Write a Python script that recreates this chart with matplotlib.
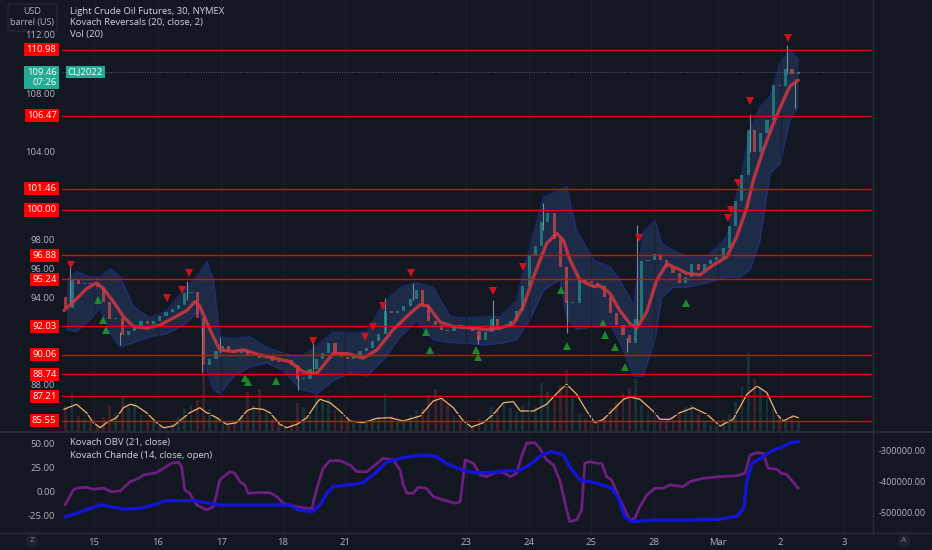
import numpy as np
import matplotlib
matplotlib.use("Agg")
import matplotlib.pyplot as plt
from matplotlib.ticker import FormatStrFormatter, FixedLocator
from matplotlib.patches import FancyBboxPatch
from matplotlib.lines import Line2D

plt.rcParams["font.family"] = ["Open Sans", "DejaVu Sans"]

# ---------------------------------------------------------------- data
# time axis: trading sessions, 0 = Feb 15
session_t = [0, 1.02, 2.03, 3.02, 4.01, 5.94, 6.95, 7.94, 8.95, 9.97, 10.97, 11.98]
session_labels = ["15", "16", "17", "18", "21", "23", "24", "25", "28", "Mar", "2", "3"]

# price bars (one every 0.1 session), open of first bar, then closes
first_open = 94.0
closes = [
    93.3, 95.2, 94.9, 95.0, 94.9, 94.7, 93.7, 92.5, 92.6, 91.4,
    91.7, 92.0, 92.4, 92.2, 92.4, 92.7, 93.0, 93.2, 93.5, 94.3,
    94.4, 92.6, 89.4, 89.8, 90.3, 90.7, 90.3, 90.2, 90.4, 89.95,
    90.05, 89.85, 89.95, 89.65, 89.6, 89.7, 89.4, 88.4, 88.4, 89.1,
    89.8, 90.2, 90.9, 90.2, 89.9, 89.8, 90.0, 90.3, 90.5, 91.0,
    91.5, 93.1, 92.9, 93.05, 93.4, 93.9, 94.5, 93.5, 92.4, 92.1,
    91.75, 91.7, 92.1, 92.0, 92.0, 91.7, 91.1, 91.6, 92.5, 92.0,
    92.0, 92.4, 93.1, 94.8, 96.9, 97.5, 99.2, 99.8, 98.0, 96.1,
    93.6, 93.6, 95.2, 95.1, 95.0, 94.8, 94.0, 92.9, 92.1, 91.4,
    90.9, 92.5, 96.5, 96.6, 97.0, 96.6, 96.1, 95.7, 95.0, 95.4,
    96.3, 95.9, 96.3, 96.6, 96.8, 97.4, 98.9, 100.6, 102.4, 105.5,
    104.0, 105.3, 106.2, 108.6, 108.5, 109.7, 109.3, 109.46,
]
volumes = [
    2500, 3800, 1500, 1200, 900, 600, 1400, 2600, 1800, 3500,
    2400, 2800, 1600, 1100, 900, 500, 400, 700, 1400, 2200,
    2600, 3100, 6500, 2200, 1300, 900, 700, 800, 1500, 3900,
    2600, 4200, 1800, 1200, 700, 500, 900, 2800, 2400, 1900,
    3600, 2900, 3300, 2100, 1500, 900, 800, 1000, 1100, 1300,
    1400, 3700, 1500, 900, 1000, 1600, 2100, 2200, 3600, 4200,
    3100, 2600, 1500, 900, 700, 500, 1200, 700, 2500, 2100,
    2700, 2300, 1900, 2600, 3200, 2400, 4800, 3900, 3100, 4600,
    6100, 3400, 1800, 1200, 900, 1100, 1500, 2300, 2900, 3800,
    4300, 5200, 2600, 2000, 1400, 1000, 1200, 1300, 1700, 2400,
    2600, 1800, 900, 600, 500, 1200, 1600, 2900, 4500, 7800,
    5200, 4300, 3700, 2200, 1500, 1100, 1600, 900,
]

# notable wicks
wick_t = [-0.38, 0.42, 1.48, 1.72, 2.01, 3.26, 3.50, 4.65, 5.10, 6.13, 6.38,
          7.17, 7.55, 8.51, 8.68, 10.48, 11.07, 11.20]
wick_lo = [93.5, 90.74, 93.8, 88.9, 90.2, 87.65, 89.0, 91.8, 93.8, 90.8, 91.8,
           98.6, 91.54, 90.28, 92.0, 104.0, 109.3, 107.0]
wick_hi = [96.2, 91.6, 95.1, 92.0, 91.3, 88.6, 91.08, 93.96, 95.0, 91.4, 93.8,
           100.46, 93.8, 91.2, 99.0, 106.6, 111.3, 109.0]

# Kovach Reversals: centre line and envelope
ma_t = [-0.48, -0.28, -0.12, 0.04, 0.15, 0.31, 0.47, 0.63, 0.84, 1.05, 1.27, 1.48,
        1.61, 1.69, 1.85, 2.01, 2.23, 2.39, 2.65, 2.92, 3.13, 3.34, 3.56, 3.82,
        4.04, 4.30, 4.52, 4.78, 5.05, 5.21, 5.34, 5.53, 5.74, 6.06, 6.27, 6.49,
        6.70, 6.86, 7.02, 7.23, 7.39, 7.50, 7.60, 7.76, 7.98, 8.08, 8.24, 8.40,
        8.56, 8.67, 8.83, 8.99, 9.15, 9.31, 9.47, 9.68, 9.85, 10.11, 10.27, 10.43,
        10.53, 10.69, 10.85, 11.01, 11.12, 11.25]
ma_val = [93.1, 93.9, 94.6, 95.0, 94.6, 93.7, 92.7, 92.0, 91.9, 92.1, 92.6, 93.1,
          93.7, 93.4, 91.8, 90.4, 90.3, 90.4, 90.05, 89.8, 89.6, 88.9, 88.8, 90.15,
          90.15, 89.85, 90.4, 91.8, 92.9, 93.5, 93.4, 92.3, 92.0, 91.9, 91.8, 91.9,
          92.2, 93.4, 95.4, 97.7, 98.4, 97.9, 96.6, 95.2, 94.75, 94.8, 94.3, 93.1,
          92.2, 91.9, 93.0, 95.2, 96.3, 96.0, 95.65, 95.55, 96.1, 96.8, 98.2, 100.2,
          102.0, 104.1, 105.9, 107.5, 108.5, 108.9]

band_t = [-0.44, -0.28, -0.06, 0.10, 0.26, 0.42, 0.63, 0.89, 1.16, 1.43, 1.69,
          1.80, 1.91, 2.01, 2.23, 2.49, 2.76, 3.02, 3.29, 3.56, 3.82, 4.09, 4.36,
          4.62, 4.89, 5.15, 5.42, 5.69, 5.95, 6.22, 6.49, 6.75, 6.96, 7.18, 7.44,
          7.55, 7.71, 7.98, 8.24, 8.40, 8.62, 8.77, 8.96, 9.07, 9.25, 9.47, 9.79,
          10.11, 10.32, 10.48, 10.64, 10.80, 10.96, 11.12, 11.25]
band_hi = [95.2, 95.8, 95.4, 95.4, 96.0, 95.4, 93.4, 92.6, 93.1, 94.5, 95.7,
           96.5, 95.2, 91.3, 91.2, 91.3, 90.6, 90.2, 89.9, 90.7, 91.65, 91.55, 91.65,
           93.6, 94.7, 95.0, 94.7, 92.7, 92.6, 92.7, 92.7, 93.8, 97.5, 100.9, 101.4,
           101.6, 98.6, 96.6, 96.1, 95.2, 93.5, 98.5, 99.3, 97.7, 97.25, 96.8, 96.8,
           98.2, 102.0, 105.5, 107.1, 107.8, 110.1, 111.0, 110.3]
band_lo = [91.8, 91.65, 92.5, 93.3, 91.5, 90.6, 90.9, 91.3, 91.5, 92.1, 93.1,
           89.0, 87.65, 87.4, 88.6, 89.25, 89.5, 89.0, 87.7, 87.4, 88.3, 88.8, 88.6,
           89.7, 91.3, 92.4, 91.1, 90.9, 90.85, 90.75, 90.85, 91.1, 92.45, 94.5, 95.2,
           92.5, 91.8, 92.0, 92.2, 90.9, 88.6, 88.6, 91.1, 94.0, 94.7, 94.7, 95.0,
           95.4, 95.4, 95.9, 97.9, 102.5, 103.2, 106.2, 107.1]

sell_t = [-0.37, 1.16, 1.40, 1.52, 3.50, 4.33, 4.45, 4.61, 5.06, 6.38, 6.86,
          8.71, 10.13, 10.17, 10.29, 10.48, 11.09]
sell_p = [96.2, 93.94, 94.5, 95.65, 91.0, 91.3, 92.0, 93.4, 95.7, 94.45, 96.07,
          98.06, 99.43, 100.0, 101.83, 107.5, 111.77]
buy_t = [0.06, 0.15, 0.19, 2.41, 2.46, 2.91, 5.30, 5.37, 6.10, 6.14, 7.46,
         7.56, 8.13, 8.17, 8.33, 8.48, 9.46]
buy_p = [93.83, 92.45, 91.77, 88.45, 88.22, 88.29, 91.6, 90.4, 90.4, 89.9, 94.5,
         90.67, 92.23, 91.42, 90.58, 89.2, 93.6]

levels = [110.98, 106.47, 101.46, 100.00, 96.88, 95.24, 92.03, 90.06, 88.74, 87.21, 85.55]
last_price = 109.46
price_ticks = [86, 88, 90, 92, 94, 96, 98, 100, 102, 104, 106, 108, 110, 112]

# Vol (20) moving average
vma_t = [-0.48, -0.28, -0.12, -0.01, 0.10, 0.20, 0.36, 0.47, 0.58, 0.68, 0.84, 1.00,
         1.11, 1.27, 1.43, 1.53, 1.69, 1.80, 1.96, 2.12, 2.28, 2.44, 2.54, 2.70,
         2.81, 2.97, 3.08, 3.24, 3.40, 3.56, 3.61, 3.77, 3.93, 4.09, 4.30, 4.52,
         4.73, 4.94, 5.21, 5.42, 5.55, 5.74, 5.90, 6.03, 6.22, 6.38, 6.54, 6.70,
         6.81, 7.02, 7.23, 7.44, 7.55, 7.71, 7.87, 8.00, 8.14, 8.30, 8.46, 8.56,
         8.72, 8.93, 9.04, 9.20, 9.36, 9.57, 9.79, 10.00, 10.21, 10.43, 10.59, 10.75,
         10.91, 11.01, 11.17, 11.25]
vma_val = [2170, 2670, 1830, 830, 330, 830, 1330, 2330, 2670, 2500, 1830, 830,
           330, 500, 1330, 1830, 2330, 1830, 1330, 670, 830, 2000, 2270, 2170,
           1830, 670, 330, 670, 1330, 2830, 3170, 2830, 2000, 1000, 830, 1270,
           1330, 1000, 1500, 3000, 3270, 2330, 1000, 400, 830, 1670, 2830, 2930,
           2000, 2000, 2670, 4070, 4670, 3670, 2000, 830, 1170, 2170, 3170, 3400,
           3170, 2000, 1170, 1170, 1830, 2330, 1670, 500, 1170, 3670, 4500, 3830,
           1670, 1000, 1500, 1330]

# lower pane: Kovach Chande and Kovach OBV
chande_t = [-0.46, -0.33, -0.28, -0.12, -0.01, 0.15, 0.28, 0.42, 0.58, 0.71, 0.79,
            1.00, 1.11, 1.24, 1.35, 1.40, 1.45, 1.53, 1.64, 1.80, 1.91, 2.01, 2.17,
            2.25, 2.33, 2.41, 2.46, 2.60, 2.81, 2.92, 3.02, 3.24, 3.40, 3.48, 3.56,
            3.66, 3.77, 3.93, 4.09, 4.20, 4.36, 4.46, 4.62, 4.78, 4.89, 4.94, 5.00,
            5.10, 5.18, 5.31, 5.42, 5.58, 5.77, 5.85, 5.93, 6.06, 6.17, 6.27, 6.43,
            6.54, 6.65, 6.75, 6.83, 6.91, 7.04, 7.12, 7.23, 7.34, 7.44, 7.55, 7.60,
            7.71, 7.79, 7.84, 7.92, 8.03, 8.11, 8.19, 8.27, 8.38, 8.48, 8.56, 8.64,
            8.72, 8.83, 8.96, 9.09, 9.20, 9.41, 9.52, 9.73, 10.00, 10.27, 10.40, 10.48,
            10.59, 10.69, 10.77, 10.91, 10.98, 11.06, 11.14, 11.25]
chande_val = [-13.9, 1.8, 3.6, 4.6, 2.5, 3.6, 0.0, 0.7, 10.5, 14.0, 17.5,
              19.9, 24.5, 29.7, 30.8, 26.2, 1.8, -1.7, -13.9, -19.1, -15.7, 12.2, 20.9,
              19.2, 10.5, 7.0, -1.7, -1.0, -1.0, -5.2, -12.1, -15.7, -17.4, -17.4, 3.6,
              24.5, 32.4, 32.4, 27.9, 20.9, 20.9, 26.2, 34.9, 33.2, 22.7, 7.0, -1.7,
              -1.7, 4.6, 3.6, -5.2, -8.7, -12.1, -10.5, 33.2, 29.7, 17.5, 15.7, 20.9,
              19.9, 15.7, 19.2, 36.6, 50.6, 51.3, 45.4, 33.2, 27.9, 12.2, -19.1, -31.4,
              -29.6, -19.1, 29.7, 31.4, 29.7, 29.7, 15.7, 12.2, -5.2, -19.1, -29.6, -27.8,
              -15.7, -3.5, 3.6, 3.6, 7.0, 5.2, 10.5, 14.0, 15.7, 16.7, 19.2, 38.4,
              40.8, 40.1, 24.5, 23.4, 19.2, 18.2, 12.2, 3.6]

obv_t = [-0.46, -0.28, -0.06, 0.10, 0.28, 0.47, 0.73, 0.95, 1.16, 1.37, 1.59, 1.80,
         2.01, 2.33, 2.86, 3.13, 3.26, 3.48, 3.61, 3.72, 3.82, 4.04, 4.28, 4.46,
         4.68, 4.89, 5.05, 5.21, 5.47, 5.63, 5.85, 6.06, 6.33, 6.54, 6.78, 6.96,
         7.15, 7.31, 7.50, 7.60, 7.76, 8.03, 8.27, 8.38, 8.48, 8.59, 8.94, 9.47,
         10.00, 10.27, 10.38, 10.43, 10.51, 10.69, 10.85, 11.01, 11.12, 11.25]
obv_val = [-513000, -502000, -486000, -475000, -481000, -488000, -486000, -475000,
           -461000, -461000, -461000, -468000, -475000, -475000, -475000, -475000,
           -491000, -497000, -475000, -437000, -416000, -411000, -405000, -378000,
           -336000, -325000, -319000, -314000, -319000, -341000, -360000, -371000,
           -371000, -365000, -365000, -346000, -314000, -303000, -314000, -352000,
           -394000, -405000, -421000, -454000, -513000, -529000, -524000, -524000,
           -521000, -511000, -486000, -395000, -341000, -319000, -298000, -287000,
           -274000, -271000]

# ---------------------------------------------------------------- style
BG = "#131722"
TXT = "#b2b5be"
GRID = "#1c202c"
UP = "#26a69a"
DOWN = "#ef5350"
W, H = 932, 550

fig = plt.figure(figsize=(W / 100, H / 100), dpi=100, facecolor=BG)

ax = fig.add_axes([62 / W, 1 - 431 / H, 810 / W, 431 / H])
axv = ax.twinx()
axl = fig.add_axes([62 / W, 1 - 532 / H, 810 / W, 100 / H])
axo = axl.twinx()

ax.set_zorder(3)
axv.set_zorder(2)
ax.patch.set_visible(False)
axv.patch.set_visible(False)
axl.set_facecolor(BG)
axo.patch.set_visible(False)

xlim = (-0.511, 12.428)
for a in (ax, axv, axl, axo):
    a.set_xlim(*xlim)
    for s in a.spines.values():
        s.set_visible(False)

# ---------------------------------------------------------------- price pane
ax.set_ylim(84.84, 114.40)
# like TradingView, hide scale labels that sit under a price label
shown = [p for p in price_ticks
         if min(abs(p - lv) for lv in levels) > 0.7 and not (108.3 < p < 110.3)]
ax.yaxis.set_major_locator(FixedLocator(shown))
ax.yaxis.set_major_formatter(FormatStrFormatter("%.2f"))
ax.tick_params(axis="y", colors=TXT, labelsize=6.8, length=0, pad=5)
ax.tick_params(axis="x", length=0, labelbottom=False)
ax.set_xticks(session_t)
ax.grid(True, axis="x", color=GRID, lw=0.8, zorder=0)
for p in price_ticks:
    ax.axhline(p, color="#171b26", lw=0.7, zorder=0)

t_bars = -0.45 + 0.1 * np.arange(len(closes))
opens = np.concatenate([[first_open], closes[:-1]])
closes_arr = np.array(closes)
up = closes_arr >= opens
bar_col = np.where(up, UP, DOWN)

# envelope
ax.fill_between(band_t, band_lo, band_hi, color="#1f2d4a", alpha=0.95, lw=0, zorder=1)
ax.plot(band_t, band_hi, color="#1f35b0", lw=1.0, alpha=0.5, zorder=1.2)
ax.plot(band_t, band_lo, color="#1f35b0", lw=1.0, alpha=0.5, zorder=1.2)

# candles
ax.vlines(wick_t, wick_lo, wick_hi, color="#6f8f99", lw=0.8, zorder=2)
body = np.abs(closes_arr - opens)
ax.bar(t_bars, np.maximum(body, 0.06), bottom=np.minimum(opens, closes_arr),
       width=0.05, color=bar_col, alpha=0.6, lw=0, zorder=2.2)

# centre line
ax.plot(ma_t, ma_val, color="#d23641", lw=2.4, alpha=0.85, zorder=2.5,
        solid_capstyle="round")

# reversal markers
ax.plot(sell_t, sell_p, "v", color="#d0111b", ms=5.5, mew=0, zorder=2.6)
ax.plot(buy_t, buy_p, "^", color="#1b8a2b", ms=5.5, mew=0, zorder=2.6)

# level lines
for lv in levels:
    ax.axhline(lv, color="#ff0000", lw=1.0, alpha=0.9, zorder=2.7)
    ax.annotate(f"{lv:.2f}", xy=(0, lv), xycoords=ax.get_yaxis_transform(),
                xytext=(-4, 0), textcoords="offset points", ha="right", va="center",
                fontsize=6.8, color="white", annotation_clip=False, zorder=5,
                bbox=dict(boxstyle="square,pad=0.22", fc="#ff0000", ec="none"))

# last price
ax.axhline(last_price, color="#5d606b", lw=0.7, ls=(0, (1, 1.5)), zorder=2.4)
ax.annotate(f"{last_price:.2f}\n07:26", xy=(0, last_price), xycoords=ax.get_yaxis_transform(),
            xytext=(-4, -4), textcoords="offset points", ha="right", va="center",
            fontsize=6.8, color="white", annotation_clip=False, zorder=5,
            linespacing=1.15,
            bbox=dict(boxstyle="square,pad=0.25", fc="#22ab94", ec="none"))
ax.annotate("CLJ2022", xy=(0, last_price), xycoords=ax.get_yaxis_transform(),
            xytext=(4, 0), textcoords="offset points", ha="left", va="center",
            fontsize=6.8, color="white", annotation_clip=False, zorder=5,
            bbox=dict(boxstyle="square,pad=0.2", fc="#22ab94", ec="none"))

# volume overlay
axv.set_ylim(0, 43100)
axv.axis("off")
axv.bar(t_bars, volumes, width=0.045, color=bar_col, alpha=0.2, lw=0)
axv.plot(vma_t, vma_val, color="#f5b26b", lw=0.9)

# ---------------------------------------------------------------- lower pane
axl.set_ylim(-42.2, 62.4)
axl.set_yticks([50, 25, 0, -25])
axl.yaxis.set_major_formatter(FormatStrFormatter("%.2f"))
axl.tick_params(axis="y", colors=TXT, labelsize=6.8, length=0, pad=5)
axl.set_xticks(session_t)
axl.set_xticklabels(session_labels)
axl.tick_params(axis="x", colors=TXT, labelsize=6.8, length=0, pad=4)
axl.grid(True, axis="x", color=GRID, lw=0.8)
axl.plot(chande_t, chande_val, color="#6e1d80", lw=2.0, zorder=3)

axo.set_ylim(-562300, -239700)
axo.set_yticks([-300000, -400000, -500000])
axo.yaxis.set_major_formatter(FormatStrFormatter("%.2f"))
axo.tick_params(axis="y", colors=TXT, labelsize=6.5, length=0, pad=5)
axo.plot(obv_t, obv_val, color="#1414d8", lw=2.4, zorder=2)

# ---------------------------------------------------------------- frame & texts
sep = "#2a2e39"
fig.add_artist(Line2D([0, 1], [1 - 431.5 / H, 1 - 431.5 / H], color=sep, lw=1.2))
fig.add_artist(Line2D([0, 1], [1 - 532.5 / H, 1 - 532.5 / H], color=sep, lw=1.0))
fig.add_artist(Line2D([872.5 / W, 872.5 / W], [1 - 532 / H, 1], color=sep, lw=1.0))

fig.add_artist(FancyBboxPatch((8 / W, 1 - 31 / H), 49 / W, 27 / H,
                              boxstyle="round,pad=0,rounding_size=0.004",
                              fc=BG, ec=sep, lw=0.8, transform=fig.transFigure))
fig.text(32.5 / W, 1 - 11 / H, "USD", color=TXT, fontsize=6.5, ha="center", va="center")
fig.text(32.5 / W, 1 - 23 / H, "barrel (US)", color=TXT, fontsize=6.5, ha="center", va="center")

hdr = "#d1d4dc"
fig.text(70 / W, 1 - 11 / H, "Light Crude Oil Futures, 30, NYMEX", color=hdr, fontsize=6.8, va="center")
fig.text(70 / W, 1 - 22.5 / H, "Kovach Reversals (20, close, 2)", color=hdr, fontsize=6.8, va="center")
fig.text(70 / W, 1 - 34 / H, "Vol (20)", color=hdr, fontsize=6.8, va="center")
fig.text(70 / W, 1 - 443 / H, "Kovach OBV (21, close)", color=hdr, fontsize=6.8, va="center")
fig.text(70 / W, 1 - 455 / H, "Kovach Chande (14, close, open)", color=hdr, fontsize=6.8, va="center")

for xc, s in ((32, "Z"), (904, "A")):
    fig.text(xc / W, 1 - 541 / H, s, color="#787b86", fontsize=6, ha="center", va="center",
             bbox=dict(boxstyle="circle,pad=0.35", fc="#1e222d", ec="none"))

fig.savefig("out.png", dpi=100, facecolor=BG)
